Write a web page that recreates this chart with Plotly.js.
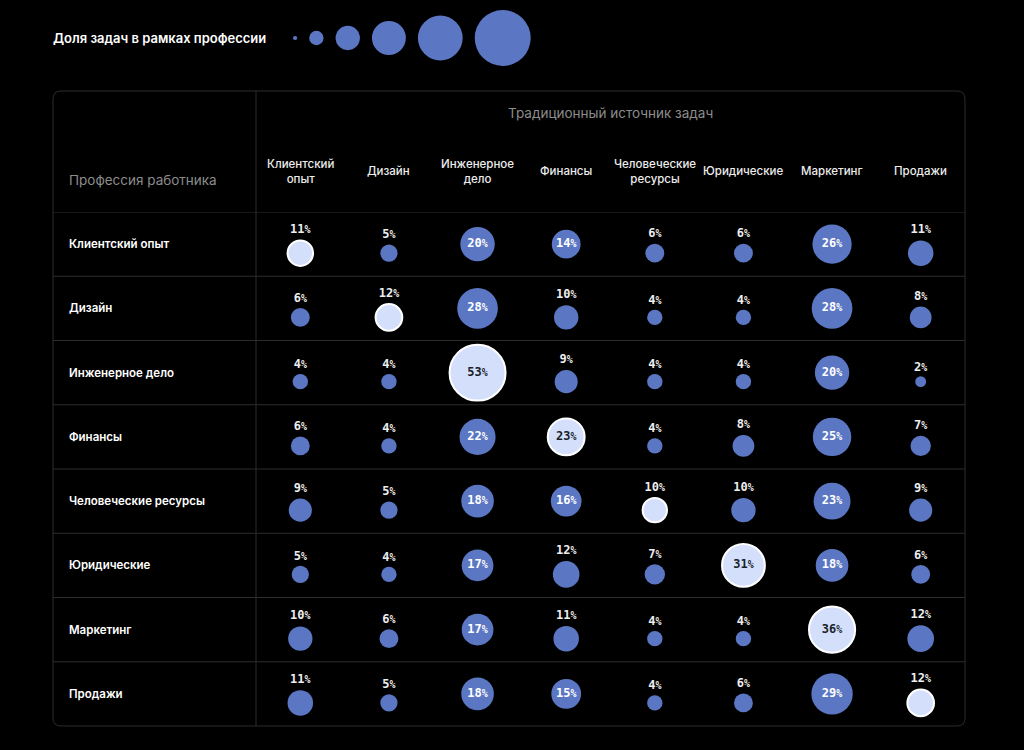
<!DOCTYPE html>
<html>
<head>
<meta charset="utf-8">
<script src="https://cdn.plot.ly/plotly-3.0.1.min.js"></script>
<style>
  html, body { margin: 0; padding: 0; background: #000; }
  #chart { width: 1024px; height: 750px; }
</style>
</head>
<body>
<div id="chart"></div>
<script>
// Professions (rows) and traditional task sources (columns)
const professions = ['Клиентский опыт', 'Дизайн', 'Инженерное дело', 'Финансы',
  'Человеческие ресурсы', 'Юридические', 'Маркетинг', 'Продажи'];
const sources = ['Клиентский<br>опыт', 'Дизайн', 'Инженерное<br>дело', 'Финансы',
  'Человеческие<br>ресурсы', 'Юридические', 'Маркетинг', 'Продажи'];

// Share of tasks (%) for each profession, by source
const customerExperience = [11, 5, 20, 14, 6, 6, 26, 11];
const design             = [6, 12, 28, 10, 4, 4, 28, 8];
const engineering        = [4, 4, 53, 9, 4, 4, 20, 2];
const finance            = [6, 4, 22, 23, 4, 8, 25, 7];
const humanResources     = [9, 5, 18, 16, 10, 10, 23, 9];
const legal              = [5, 4, 17, 12, 7, 31, 18, 6];
const marketing          = [10, 6, 17, 11, 4, 4, 36, 12];
const sales              = [11, 5, 18, 15, 4, 6, 29, 12];

// Reference values for the size key
const legendValues = [0.3, 3.5, 10, 19.5, 34, 53];

const shareRows = [customerExperience, design, engineering, finance,
  humanResources, legal, marketing, sales];

// ---- page geometry (pixels) ----
const W = 1024, H = 750;
const box = { left: 53, right: 965, top: 91, bottom: 726 };
const labelEdge = 256, headerBottom = 212;
const textLeft = 67;

const BLUE = '#5b77c3', LIGHT = '#d4e0fb';
const GRID = '#2c2c2c';
const INSIDE_MIN = 13;          // labels move inside bubbles from this share up
const DIAM_K = 7.69;            // bubble diameter (px) = k * sqrt(share)
const rowPx = (box.bottom - headerBottom) / professions.length;
const shiftRows = 9 / rowPx;    // bubbles with a label on top sit a bit lower

// area-proportional bubbles: Plotly's area mode gives d = sqrt(2 * v / sizeref)
const sizeref = 2 / (DIAM_K * DIAM_K);

const pctText = v => v + '<span style="font-size:10px">%</span>';

// ---- matrix bubbles ----
const xs = [], ys = [], sizes = [], colors = [], lineW = [], texts = [], tpos = [], tcol = [];
shareRows.forEach((row, i) => {
  row.forEach((v, j) => {
    const diag = i === j;
    const inside = v >= INSIDE_MIN;
    xs.push(j);
    ys.push(inside ? i : i + shiftRows);
    sizes.push(v);
    colors.push(diag ? LIGHT : BLUE);
    lineW.push(diag ? 2 : 0);
    texts.push(pctText(v));
    tpos.push(inside ? 'middle center' : 'top center');
    tcol.push(inside ? (diag ? '#1b1f2b' : '#ffffff') : '#eeeeee');
  });
});

const matrix = {
  type: 'scatter', mode: 'markers+text',
  x: xs, y: ys, xaxis: 'x', yaxis: 'y',
  text: texts, textposition: tpos,
  textfont: { family: 'DejaVu Sans Mono, monospace', size: 12, color: tcol, weight: 700 },
  marker: {
    size: sizes, sizemode: 'area', sizeref: sizeref, sizemin: 1,
    color: colors, opacity: 1,
    line: { color: '#ffffff', width: lineW }
  },
  hoverinfo: 'skip', cliponaxis: false, showlegend: false
};

// ---- size key: circles laid out left to right with a fixed gap ----
const keyGap = 12, keyStart = 293, keyY = 38;
const keyX = [];
let cursor = keyStart;
legendValues.forEach(v => {
  const d = DIAM_K * Math.sqrt(v);
  keyX.push(cursor + d / 2);
  cursor += d + keyGap;
});
const sizeKey = {
  type: 'scatter', mode: 'markers',
  x: keyX, y: legendValues.map(() => keyY), xaxis: 'x2', yaxis: 'y2',
  marker: { size: legendValues, sizemode: 'area', sizeref: sizeref, sizemin: 1, color: BLUE, opacity: 1, line: { width: 0 } },
  hoverinfo: 'skip', cliponaxis: false, showlegend: false
};

// ---- table frame ----
const r = 8;
const framePath = `M ${box.left + r},${box.top} L ${box.right - r},${box.top} Q ${box.right},${box.top} ${box.right},${box.top + r}` +
  ` L ${box.right},${box.bottom - r} Q ${box.right},${box.bottom} ${box.right - r},${box.bottom}` +
  ` L ${box.left + r},${box.bottom} Q ${box.left},${box.bottom} ${box.left},${box.bottom - r}` +
  ` L ${box.left},${box.top + r} Q ${box.left},${box.top} ${box.left + r},${box.top} Z`;

const shapes = [
  { type: 'path', path: framePath, xref: 'x2', yref: 'y2', line: { color: GRID, width: 1 }, layer: 'below' },
  { type: 'line', xref: 'x2', yref: 'y2', x0: labelEdge, x1: labelEdge, y0: box.top, y1: box.bottom,
    line: { color: GRID, width: 1 }, layer: 'below' }
];
for (let i = 0; i < professions.length; i++) {
  shapes.push({ type: 'line', xref: 'x2', yref: 'y', x0: box.left, x1: box.right, y0: i - 0.5, y1: i - 0.5,
    line: { color: GRID, width: 1 }, layer: 'below' });
}

// ---- texts ----
const annotations = [
  { xref: 'x2', yref: 'y2', x: box.left - 2, y: keyY, xanchor: 'left', yanchor: 'middle', showarrow: false,
    text: 'Доля задач в рамках профессии', font: { family: 'Inter, sans-serif', size: 13, color: '#ffffff', weight: 600 } },
  { xref: 'x2', yref: 'y2', x: (labelEdge + box.right) / 2, y: 113, xanchor: 'center', yanchor: 'middle', showarrow: false,
    text: 'Традиционный источник задач', font: { family: 'Inter, sans-serif', size: 13.5, color: '#8c8c8c' } },
  { xref: 'x2', yref: 'y2', x: textLeft, y: 180, xanchor: 'left', yanchor: 'middle', showarrow: false,
    text: 'Профессия работника', font: { family: 'Inter, sans-serif', size: 13.5, color: '#8c8c8c' } }
];
sources.forEach((s, j) => {
  annotations.push({ xref: 'x', yref: 'y2', x: j, y: 171, xanchor: 'center', yanchor: 'middle', showarrow: false,
    text: s, align: 'center', font: { family: 'Inter, sans-serif', size: 11.5, color: '#ededed', weight: 500 } });
});
professions.forEach((p, i) => {
  annotations.push({ xref: 'x2', yref: 'y', x: textLeft, y: i, xanchor: 'left', yanchor: 'middle', showarrow: false,
    text: p, font: { family: 'Inter, sans-serif', size: 11.5, color: '#ffffff', weight: 600 } });
});

const layout = {
  width: W, height: H,
  margin: { l: 0, r: 0, t: 0, b: 0, pad: 0 },
  paper_bgcolor: '#000000', plot_bgcolor: 'rgba(0,0,0,0)',
  xaxis: { domain: [labelEdge / W, box.right / W], range: [-0.5, sources.length - 0.5], visible: false, fixedrange: true },
  yaxis: { domain: [(H - box.bottom) / H, (H - headerBottom) / H], range: [professions.length - 0.5, -0.5], visible: false, fixedrange: true },
  xaxis2: { domain: [0, 1], range: [0, W], visible: false, anchor: 'y2', fixedrange: true },
  yaxis2: { domain: [0, 1], range: [H, 0], visible: false, anchor: 'x2', fixedrange: true },
  shapes: shapes,
  annotations: annotations,
  hovermode: false,
  showlegend: false
};

Plotly.newPlot('chart', [sizeKey, matrix], layout, { displayModeBar: false, staticPlot: true });
</script>
</body>
</html>
